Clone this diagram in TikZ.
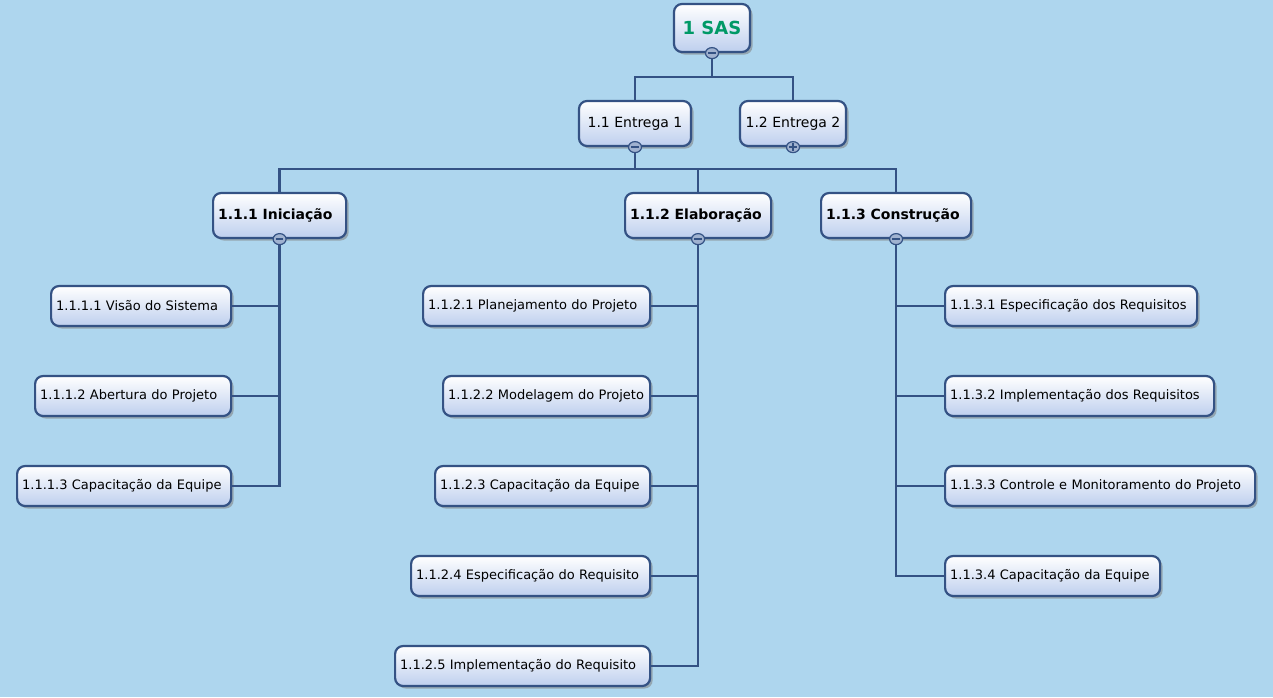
\documentclass[tikz,border=0pt]{standalone}
\usepackage{fontspec}
\setmainfont{DejaVu Sans}
\usetikzlibrary{shadows,calc,shapes.geometric}
\definecolor{bg}{RGB}{174,214,238}
\definecolor{bord}{RGB}{52,82,132}
\definecolor{boxbot}{RGB}{190,207,238}
\definecolor{togc}{RGB}{160,178,208}
\definecolor{sasgreen}{RGB}{0,153,102}
\tikzset{
  box/.style={rounded corners=8pt, draw=bord, line width=2.2pt,
    top color=white, middle color=white, bottom color=boxbot,
    drop shadow={shadow xshift=2.5pt,shadow yshift=-2.5pt,opacity=0.55},
    inner xsep=5pt, inner ysep=2pt},
  leaf/.style={box, anchor=west, align=left, minimum height=40pt, text width=#1,
    font=\fontsize{13}{15}\selectfont},
  head/.style={box, anchor=west, align=left, minimum height=45pt, text width=#1,
    font=\bfseries\fontsize{14}{16}\selectfont},
  mid/.style={box, anchor=center, minimum height=45pt, minimum width=#1,
    font=\fontsize{14}{16}\selectfont},
  conn/.style={draw=bord, line width=2.4pt},
  tog/.style={ellipse, draw=bord, line width=1.2pt, fill=togc, inner sep=0pt,
    minimum width=13pt, minimum height=11pt},
  togminus/.style={tog, path picture={
    \draw[bord, line width=2pt] ([xshift=-3.8pt]path picture bounding box.center) -- ([xshift=3.8pt]path picture bounding box.center);}},
  togplus/.style={tog, path picture={
    \draw[bord, line width=2pt] ([xshift=-3.8pt]path picture bounding box.center) -- ([xshift=3.8pt]path picture bounding box.center);
    \draw[bord, line width=2pt] ([yshift=-3.8pt]path picture bounding box.center) -- ([yshift=3.8pt]path picture bounding box.center);}}
}
\begin{document}
\begin{tikzpicture}[x=1pt,y=-1pt]
\fill[bg] (0,0) rectangle (1273,697);
\useasboundingbox (0,0) rectangle (1273,697);

\coordinate (j0) at (712,77);
\coordinate (j1) at (635,169);

% nodes
\node[mid=76pt, font=\bfseries\fontsize{18}{20}\selectfont, text=sasgreen, minimum height=48pt] (sas) at (712,28) {1 SAS};
\node[mid=112pt] (e1) at (635,123.5) {1.1 Entrega 1};
\node[mid=106pt] (e2) at (793,123.5) {1.2 Entrega 2};

\node[head=123pt] (ini) at (212,215.5) {1.1.1 Iniciação};
\node[head=136pt] (ela) at (624,215.5) {1.1.2 Elaboração};
\node[head=140pt] (con) at (820,215.5) {1.1.3 Construção};

\node[leaf=170pt] (l111) at (50,306) {1.1.1.1 Visão do Sistema};
\node[leaf=186pt] (l112) at (34,396) {1.1.1.2 Abertura do Projeto};
\node[leaf=204pt] (l113) at (16,486) {1.1.1.3 Capacitação da Equipe};

\node[leaf=217pt] (l121) at (422,306) {1.1.2.1 Planejamento do Projeto};
\node[leaf=197pt] (l122) at (442,396) {1.1.2.2 Modelagem do Projeto};
\node[leaf=205pt] (l123) at (434,486) {1.1.2.3 Capacitação da Equipe};
\node[leaf=229pt] (l124) at (410,576) {1.1.2.4 Especificação do Requisito};
\node[leaf=245pt] (l125) at (394,666) {1.1.2.5 Implementação do Requisito};

\node[leaf=242pt] (l131) at (944,306) {1.1.3.1 Especificação dos Requisitos};
\node[leaf=259pt] (l132) at (944,396) {1.1.3.2 Implementação dos Requisitos};
\node[leaf=300pt] (l133) at (944,486) {1.1.3.3 Controle e Monitoramento do Projeto};
\node[leaf=205pt] (l134) at (944,576) {1.1.3.4 Capacitação da Equipe};

% connectors
\draw[conn] (sas.south) -- (j0);
\draw[conn] (e1.north) |- (j0) -| (e2.north);
\draw[conn] (e1.south) -- (j1);
\draw[conn] (ini.north) |- (j1) -| (con.north);
\draw[conn] (ela.north) -- (ela.north |- j1);

\draw[conn] (ini.south) |- (l113.east);
\draw[conn] (l111.east) -- (l111.east -| ini.south);
\draw[conn] (l112.east) -- (l112.east -| ini.south);

\draw[conn] (ela.south) |- (l125.east);
\draw[conn] (l121.east) -- (l121.east -| ela.south);
\draw[conn] (l122.east) -- (l122.east -| ela.south);
\draw[conn] (l123.east) -- (l123.east -| ela.south);
\draw[conn] (l124.east) -- (l124.east -| ela.south);

\draw[conn] (con.south) |- (l134.west);
\draw[conn] (l131.west) -- (l131.west -| con.south);
\draw[conn] (l132.west) -- (l132.west -| con.south);
\draw[conn] (l133.west) -- (l133.west -| con.south);

% toggles
\node[togminus] (tsas) at (sas.south) {};
\node[togminus] (te1) at (e1.south) {};
\node[togplus] (te2) at (e2.south) {};
\node[togminus] (tini) at (ini.south) {};
\node[togminus] (tela) at (ela.south) {};
\node[togminus] (tcon) at (con.south) {};
\end{tikzpicture}
\end{document}
